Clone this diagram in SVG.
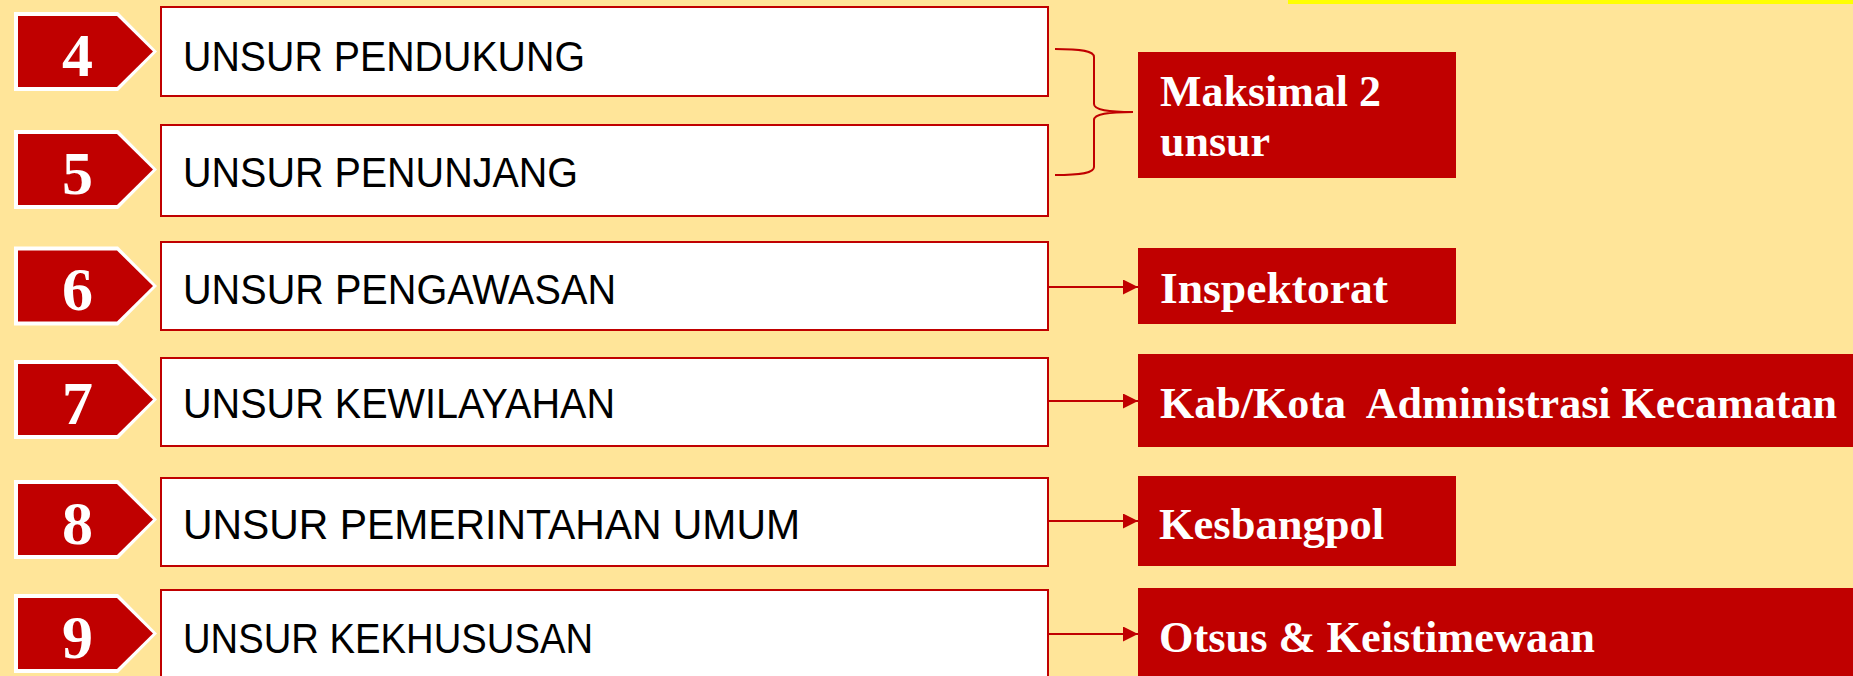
<svg xmlns="http://www.w3.org/2000/svg" width="1853" height="676" viewBox="0 0 1853 676">
<style>
.box{fill:#FFFFFF;stroke:#C00000;stroke-width:2}
.lbl{font-family:"Liberation Sans",Arial,sans-serif;font-size:43px;fill:#000000}
.num{font-family:"Liberation Serif","Times New Roman",serif;font-size:62px;font-weight:bold;fill:#FFFFFF;text-anchor:middle}
.rbox{fill:#C00000}
.rtxt{font-family:"Liberation Serif","Times New Roman",serif;font-size:44px;font-weight:bold;fill:#FFFFFF}
.conn{fill:none;stroke:#C00000;stroke-width:2}
</style>
<defs>
<g id="pent">
<polygon points="14,-39.5 118,-39.5 157,0 118,39.5 14,39.5" fill="#FFFFFF"/>
<polygon points="18,-35.5 117,-35.5 153,0 117,35.5 18,35.5" fill="#C00000"/>
</g>
<marker id="ah" markerWidth="16" markerHeight="16" refX="15" refY="7.5" orient="auto" markerUnits="userSpaceOnUse">
<polygon points="0,0 15,7.5 0,15" fill="#C00000"/>
</marker>
</defs>
<rect x="0" y="0" width="1853" height="676" fill="#FFE599"/>
<rect x="1288" y="0" width="565" height="4" fill="#FFFF00"/>

<g id="row4">
<use href="#pent" transform="translate(0,51.5)"/>
<text class="num" x="77.5" y="75.5">4</text>
<rect class="box" x="161" y="7" width="887" height="89"/>
<text class="lbl" x="183" y="71" textLength="402" lengthAdjust="spacingAndGlyphs">UNSUR PENDUKUNG</text>
</g>
<g id="row5">
<use href="#pent" transform="translate(0,169.5)"/>
<text class="num" x="77.5" y="193.5">5</text>
<rect class="box" x="161" y="125" width="887" height="91"/>
<text class="lbl" x="183" y="187" textLength="395" lengthAdjust="spacingAndGlyphs">UNSUR PENUNJANG</text>
</g>
<g id="row6">
<use href="#pent" transform="translate(0,286)"/>
<text class="num" x="77.5" y="310">6</text>
<rect class="box" x="161" y="242" width="887" height="88"/>
<text class="lbl" x="183" y="304" textLength="433" lengthAdjust="spacingAndGlyphs">UNSUR PENGAWASAN</text>
</g>
<g id="row7">
<use href="#pent" transform="translate(0,399.5)"/>
<text class="num" x="77.5" y="423.5">7</text>
<rect class="box" x="161" y="358" width="887" height="88"/>
<text class="lbl" x="183" y="418" textLength="432" lengthAdjust="spacingAndGlyphs">UNSUR KEWILAYAHAN</text>
</g>
<g id="row8">
<use href="#pent" transform="translate(0,519.5)"/>
<text class="num" x="77.5" y="543.5">8</text>
<rect class="box" x="161" y="478" width="887" height="88"/>
<text class="lbl" x="183" y="539" textLength="617" lengthAdjust="spacingAndGlyphs">UNSUR PEMERINTAHAN UMUM</text>
</g>
<g id="row9">
<use href="#pent" transform="translate(0,633.5)"/>
<text class="num" x="77.5" y="657.5">9</text>
<rect class="box" x="161" y="590" width="887" height="100"/>
<text class="lbl" x="183" y="653" textLength="410" lengthAdjust="spacingAndGlyphs">UNSUR KEKHUSUSAN</text>
</g>

<g id="maksimal">
<rect class="rbox" x="1138" y="52" width="318" height="126"/>
<text class="rtxt" x="1160" y="106" textLength="221" lengthAdjust="spacingAndGlyphs">Maksimal 2</text>
<text class="rtxt" x="1160" y="156">unsur</text>
</g>
<g id="inspektorat">
<rect class="rbox" x="1138" y="248" width="318" height="76"/>
<text class="rtxt" x="1160" y="303" textLength="228" lengthAdjust="spacingAndGlyphs">Inspektorat</text>
</g>
<g id="kabkota">
<rect class="rbox" x="1138" y="354" width="715" height="93"/>
<text class="rtxt" x="1160" y="418" textLength="677" lengthAdjust="spacingAndGlyphs" xml:space="preserve">Kab/Kota  Administrasi Kecamatan</text>
</g>
<g id="kesbangpol">
<rect class="rbox" x="1138" y="476" width="318" height="90"/>
<text class="rtxt" x="1159" y="539" textLength="225" lengthAdjust="spacingAndGlyphs">Kesbangpol</text>
</g>
<g id="otsus">
<rect class="rbox" x="1138" y="588" width="715" height="88"/>
<text class="rtxt" x="1159" y="652" textLength="436" lengthAdjust="spacingAndGlyphs">Otsus &amp; Keistimewaan</text>
</g>

<g id="connectors">
<path class="conn" d="M1055,49 C1082,49 1094,51 1094,57 L1094,104 C1094,110 1108,112 1133,112 C1108,112 1094,114 1094,120 L1094,167 C1094,173 1082,175 1055,175"/>
<line class="conn" x1="1049" y1="287" x2="1138" y2="287" marker-end="url(#ah)"/>
<line class="conn" x1="1049" y1="401" x2="1138" y2="401" marker-end="url(#ah)"/>
<line class="conn" x1="1049" y1="521" x2="1138" y2="521" marker-end="url(#ah)"/>
<line class="conn" x1="1049" y1="634" x2="1138" y2="634" marker-end="url(#ah)"/>
</g>
</svg>
